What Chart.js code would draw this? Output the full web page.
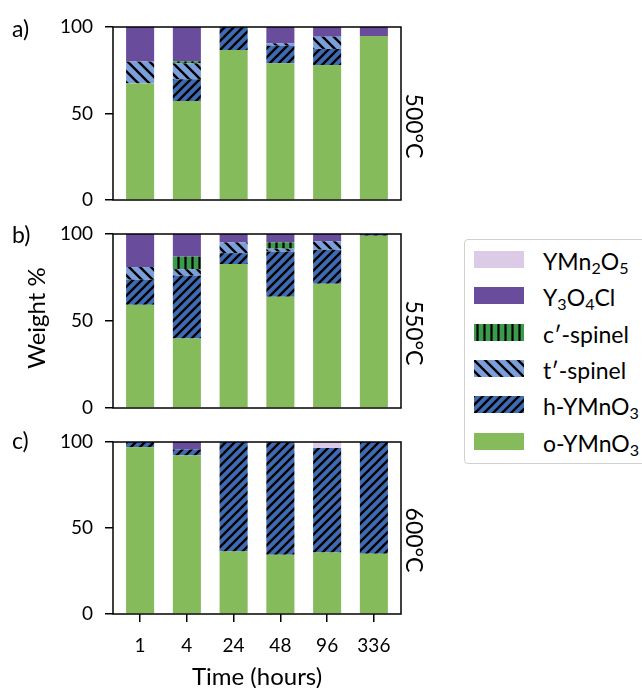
<!DOCTYPE html>
<html>
<head>
<meta charset="utf-8">
<script src="https://cdn.jsdelivr.net/npm/chart.js@4.4.1/dist/chart.umd.min.js"></script>
<style>
  body { margin: 0; width: 642px; height: 688px; overflow: hidden; background: #fff; position: relative; font-family: Lato, sans-serif; color: #000; }
  canvas.panel { position: absolute; left: 0; }
  .txt { position: absolute; white-space: nowrap; line-height: 1; }
  .rot { transform: translate(-50%, -50%) rotate(90deg); }
  .rotl { transform: translate(-50%, -50%) rotate(-90deg); }
  #legend { position: absolute; left: 464px; top: 239px; width: 200px; height: 223px; border: 1px solid #d0d0d0; border-radius: 4px; background: #fff; }
  .row { position: absolute; left: 9px; height: 17px; }
  .row canvas { position: absolute; left: 0; top: 0; }
  .row span { position: absolute; left: 69px; top: -4px; font-size: 23px; white-space: nowrap; }
  sub { font-size: 0.7em; vertical-align: -0.25em; line-height: 0; }
</style>
</head>
<body>
<canvas class="panel" id="pa" width="642" height="215" style="top:0px"></canvas>
<canvas class="panel" id="pb" width="642" height="210" style="top:215px"></canvas>
<canvas class="panel" id="pc" width="642" height="263" style="top:425px"></canvas>

<div class="txt" style="left:12px;top:17px;font-size:23px">a)</div>
<div class="txt" style="left:12px;top:223px;font-size:23px">b)</div>
<div class="txt" style="left:12px;top:429px;font-size:23px">c)</div>
<div class="txt rotl" style="left:36px;top:318px;font-size:24px">Weight %</div>
<div class="txt rot" style="left:414px;top:126px;font-size:23px">500°C</div>
<div class="txt rot" style="left:414px;top:333px;font-size:23px">550°C</div>
<div class="txt rot" style="left:414px;top:540px;font-size:23px">600°C</div>
<div class="txt" style="left:257px;top:676px;font-size:24px;transform:translate(-50%,-50%)">Time (hours)</div>

<div id="legend"></div>

<script>
// x categories
const times = ['1', '4', '24', '48', '96', '336'];
const yTicks = [0, 50, 100];

// phases, bottom of the stack first
const phases = ['o-YMnO<sub>3</sub>', 'h-YMnO<sub>3</sub>', 't\u2032-spinel', 'c\u2032-spinel', 'Y<sub>3</sub>O<sub>4</sub>Cl', 'YMn<sub>2</sub>O<sub>5</sub>'];

// 500 C
const o500 = [67.4, 57.2, 86.7, 79.0, 78.0, 94.8];
const h500 = [0, 12.6, 13.3, 10.2, 9.3, 0];
const t500 = [12.6, 9.2, 0, 1.4, 7.1, 0];
const c500 = [0, 1.2, 0, 0, 0, 0];
const y500 = [20.0, 19.8, 0, 9.4, 5.6, 5.2];
const m500 = [0, 0, 0, 0, 0, 0];

// 550 C
const o550 = [59.3, 40.0, 82.7, 63.9, 71.4, 99.0];
const h550 = [14.4, 36.2, 6.3, 26.1, 19.6, 1.0];
const t550 = [7.3, 3.6, 6.2, 1.6, 4.8, 0];
const c550 = [0, 7.2, 0, 3.6, 0, 0];
const y550 = [19.0, 13.0, 4.8, 4.8, 4.2, 0];
const m550 = [0, 0, 0, 0, 0, 0];

// 600 C
const o600 = [96.9, 92.2, 36.3, 34.4, 35.7, 35.0];
const h600 = [3.1, 3.5, 63.7, 65.6, 60.8, 65.0];
const t600 = [0, 0, 0, 0, 0, 0];
const c600 = [0, 0, 0, 0, 0, 0];
const y600 = [0, 4.3, 0, 0, 0, 0];
const m600 = [0, 0, 0, 0, 3.5, 0];

// hatch patterns like matplotlib's '//', '\\', '|'
function hatch(bg, kind, p) {
  const c = document.createElement('canvas');
  c.width = p; c.height = p;
  const g = c.getContext('2d');
  g.fillStyle = bg;
  g.fillRect(0, 0, p, p);
  if (kind) {
    g.strokeStyle = '#000';
    g.lineWidth = kind === '|' ? 2.2 : 2.4;
    g.beginPath();
    if (kind === '/') {
      for (let k = 0; k <= 2; k++) { g.moveTo(-p, k * p + p); g.lineTo(k * p + p, -p); }
    } else if (kind === '\\') {
      for (let k = -1; k <= 1; k++) { g.moveTo(-p, -p + k * p); g.lineTo(2 * p, 2 * p + k * p); }
    } else {
      g.moveTo(p / 2, 0); g.lineTo(p / 2, p);
    }
    g.stroke();
  }
  return g.createPattern(c, 'repeat');
}

function fills() {
  return [
    '#86bb5b',
    hatch('#3d6cb5', '/', 9),
    hatch('#7b9fda', '\\', 11),
    hatch('#3c9b4a', '|', 7),
    '#6a4c9c',
    '#dccbe7'
  ];
}

const frame = {
  id: 'frame',
  afterDatasetsDraw(chart) {
    const a = chart.chartArea, g = chart.ctx;
    g.save();
    g.strokeStyle = '#000';
    g.lineWidth = 1.5;
    g.strokeRect(a.left, a.top, a.right - a.left, a.bottom - a.top);
    g.restore();
  }
};

function panel(id, sets, showX, pad) {
  const f = fills();
  const datasets = sets.map((vals, k) => ({
    label: phases[k],
    data: vals.map((v, i) => ({ x: i, y: v })),
    backgroundColor: f[k],
    borderWidth: 0,
    barPercentage: 0.6,
    categoryPercentage: 1,
    stack: 'all'
  }));
  return new Chart(document.getElementById(id), {
    type: 'bar',
    data: { datasets },
    options: {
      responsive: false,
      animation: false,
      layout: { padding: pad },
      plugins: { legend: { display: false }, tooltip: { enabled: false } },
      scales: {
        x: {
          type: 'linear',
          min: -0.58,
          max: 5.58,
          offset: false,
          stacked: true,
          display: showX,
          afterBuildTicks: (s) => { s.ticks = times.map((_, i) => ({ value: i })); },
          afterFit: (s) => { if (showX) s.height = 74; },
          border: { display: false },
          grid: { offset: false, drawOnChartArea: false, drawTicks: true, tickLength: 8, color: '#000', lineWidth: 1.5 },
          ticks: {
            color: '#000',
            font: { family: 'Lato', size: 19 },
            padding: 12,
            maxRotation: 0,
            autoSkip: false,
            callback: (v) => times[v]
          }
        },
        y: {
          min: 0,
          max: 100,
          stacked: true,
          afterBuildTicks: (s) => { s.ticks = yTicks.map((v) => ({ value: v })); },
          afterFit: (s) => { s.width = 113; s.paddingTop = 0; s.paddingBottom = 0; },
          border: { display: false },
          grid: { drawOnChartArea: false, drawTicks: true, tickLength: 8, color: '#000', lineWidth: 1.5 },
          ticks: { color: '#000', font: { family: 'Lato', size: 19 }, padding: 12 }
        }
      }
    },
    plugins: [frame]
  });
}

panel('pa', [o500, h500, t500, c500, y500, m500], false, { left: 0, right: 241, top: 27, bottom: 15 });
panel('pb', [o550, h550, t550, c550, y550, m550], false, { left: 0, right: 241, top: 19, bottom: 17 });
panel('pc', [o600, h600, t600, c600, y600, m600], true, { left: 0, right: 241, top: 17, bottom: 0 });

// legend, top entry is the top of the stack
const legend = document.getElementById('legend');
const lf = fills();
for (let r = 0; r < phases.length; r++) {
  const k = phases.length - 1 - r;
  const row = document.createElement('div');
  row.className = 'row';
  row.style.top = (11 + r * 36.3) + 'px';
  const sw = document.createElement('canvas');
  sw.width = 50; sw.height = 17;
  const g = sw.getContext('2d');
  g.fillStyle = lf[k];
  g.fillRect(0, 0, 50, 17);
  const label = document.createElement('span');
  label.innerHTML = phases[k];
  row.appendChild(sw);
  row.appendChild(label);
  legend.appendChild(row);
}
</script>
</body>
</html>
